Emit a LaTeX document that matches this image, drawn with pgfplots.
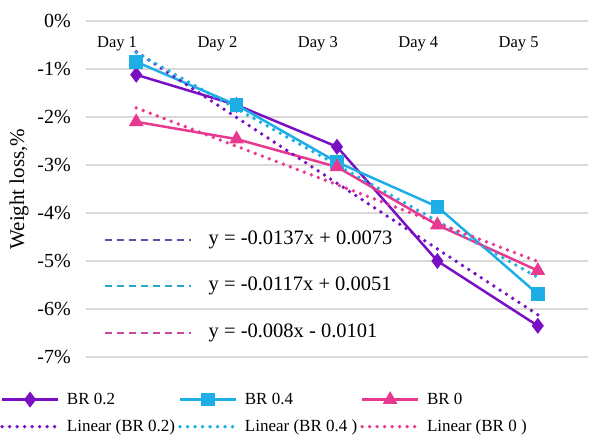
\documentclass[border=0pt]{standalone}
\usepackage{fontspec}
\setmainfont{Liberation Serif}
\usepackage{pgfplots}
\pgfplotsset{compat=1.18}
\definecolor{cpur}{HTML}{7A10C4}
\definecolor{cblu}{HTML}{1EAEE6}
\definecolor{cpnk}{HTML}{E8388F}
\definecolor{dpur}{HTML}{6A4AA8}
\definecolor{dblu}{HTML}{2AA6CC}
\definecolor{dpnk}{HTML}{C8489A}
\definecolor{cgrid}{HTML}{D9D9D9}
\begin{document}
\begin{tikzpicture}
\path[use as bounding box] (0,0) rectangle (593pt,439pt);
\begin{axis}[
  at={(86pt,82pt)}, anchor=south west,
  scale only axis, width=502pt, height=336pt,
  xmin=0, xmax=5, ymin=-7, ymax=0,
  xtick={0.5,1.5,2.5,3.5,4.5},
  xticklabels={Day 1,Day 2,Day 3,Day 4,Day 5},
  xticklabel pos=upper,
  xticklabel style={font=\fontsize{16.5pt}{20pt}\selectfont, anchor=east, inner sep=0pt, yshift=-23pt, xshift=1pt},
  ytick={-7,-6,-5,-4,-3,-2,-1,0},
  yticklabels={-7\%,-6\%,-5\%,-4\%,-3\%,-2\%,-1\%,0\%},
  yticklabel style={font=\fontsize{20pt}{23pt}\selectfont, inner sep=0pt, xshift=-15pt},
  ymajorgrids, grid style={cgrid, line width=1.5pt},
  axis line style={draw=none},
  major tick length=0pt,
  ylabel={Weight loss,\%},
  ylabel style={font=\fontsize{21pt}{24pt}\selectfont, at={(axis description cs:-0.1335,0.5)}, anchor=center},
  legend columns=3,
  legend cell align=left,
  legend style={draw=none, fill=none, at={(axis description cs:0,0)}, anchor=north west, xshift=-86pt, yshift=-34pt,
    font=\fontsize{17pt}{20pt}\selectfont, row sep=10pt, inner sep=0pt,
    /tikz/every odd column/.append style={column sep=5pt},
    /tikz/every even column/.append style={column sep=1pt}},
  legend image code/.code={\draw[mark repeat=2,mark phase=2] plot coordinates {(0pt,0pt) (28pt,0pt) (56pt,0pt)};},
]
\addplot[cpur, line width=2.5pt, mark=diamond*, mark size=6pt, mark options={solid}] coordinates {
  (0.5,-1.12) (1.5,-1.75) (2.5,-2.62) (3.5,-5.00) (4.5,-6.35)};
\addlegendentry{BR 0.2}
\addplot[cblu, line width=2.5pt, mark=square*, mark size=5.5pt, mark options={solid}] coordinates {
  (0.5,-0.85) (1.5,-1.75) (2.5,-2.94) (3.5,-3.87) (4.5,-5.69)};
\addlegendentry{BR 0.4}
\addplot[cpnk, line width=2.5pt, mark=triangle*, mark size=6pt, mark options={solid}] coordinates {
  (0.5,-2.10) (1.5,-2.46) (2.5,-3.04) (3.5,-4.25) (4.5,-5.20)};
\addlegendentry{BR 0}
\addplot[cpur, line width=3.8pt, line cap=round, dash pattern=on 0pt off 7.5pt] coordinates {
  (0.5,-0.64) (1.5,-2.01) (2.5,-3.38) (3.5,-4.75) (4.5,-6.12)};
\addlegendentry{Linear (BR 0.2)}
\addplot[cblu, line width=3.8pt, line cap=round, dash pattern=on 0pt off 7.5pt] coordinates {
  (0.5,-0.66) (1.5,-1.83) (2.5,-3.00) (3.5,-4.17) (4.5,-5.34)};
\addlegendentry{Linear (BR 0.4 )}
\addplot[cpnk, line width=3.8pt, line cap=round, dash pattern=on 0pt off 7.5pt] coordinates {
  (0.5,-1.81) (1.5,-2.61) (2.5,-3.41) (3.5,-4.21) (4.5,-5.01)};
\addlegendentry{Linear (BR 0 )}
\draw[dpur, line width=1.5pt, dash pattern=on 7pt off 5pt] (axis cs:0.19,-4.56) -- (axis cs:1.05,-4.56);
\draw[dblu, line width=1.5pt, dash pattern=on 7pt off 5pt] (axis cs:0.19,-5.52) -- (axis cs:1.05,-5.52);
\draw[dpnk, line width=1.5pt, dash pattern=on 7pt off 5pt] (axis cs:0.19,-6.50) -- (axis cs:1.05,-6.50);
\node[anchor=west, font=\fontsize{20.5pt}{23pt}\selectfont, inner sep=0pt] at (axis cs:1.22,-4.56) {y = -0.0137x + 0.0073};
\node[anchor=west, font=\fontsize{20.5pt}{23pt}\selectfont, inner sep=0pt] at (axis cs:1.22,-5.52) {y = -0.0117x + 0.0051};
\node[anchor=west, font=\fontsize{20.5pt}{23pt}\selectfont, inner sep=0pt] at (axis cs:1.22,-6.50) {y = -0.008x - 0.0101};
\end{axis}
\end{tikzpicture}
\end{document}
